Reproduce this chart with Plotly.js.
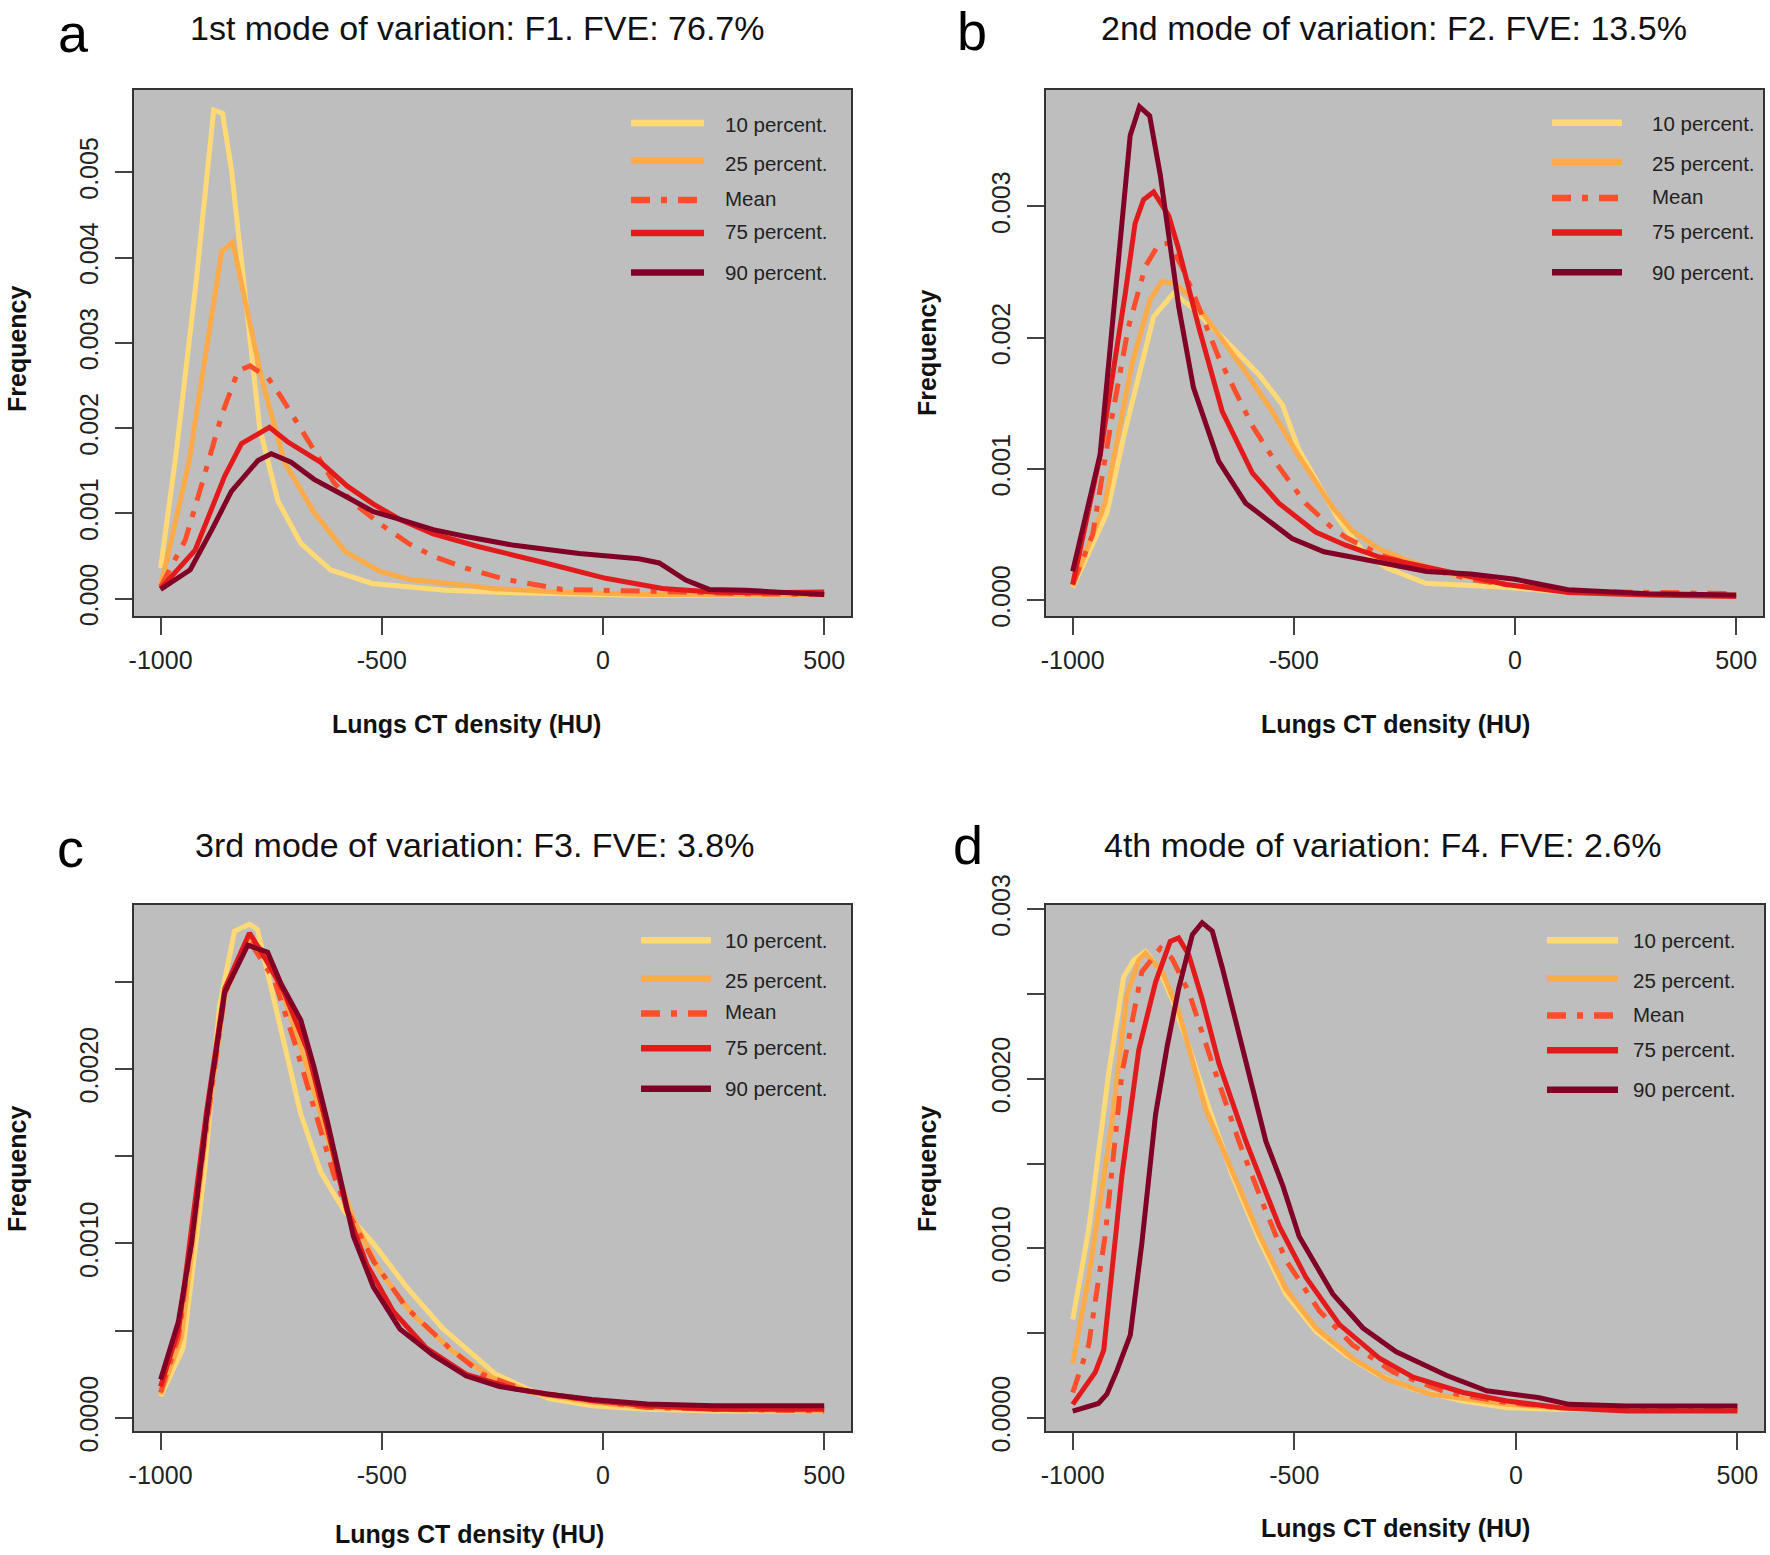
<!DOCTYPE html>
<html>
<head>
<meta charset="utf-8">
<script src="https://cdn.plot.ly/plotly-3.0.1.min.js"></script>
<style>html,body{margin:0;padding:0;background:#fff;}#chart{width:1770px;height:1555px;}</style>
</head>
<body>
<div id="chart"></div>
<script>
// ---------------- DATA ----------------
const seriesNames = ['10 percent.', '25 percent.', 'Mean', '75 percent.', '90 percent.'];
const xTickVals = [-1000, -500, 0, 500];
const xTickText = ['-1000', '-500', '0', '500'];

const panelTitles = ['1st mode of variation: F1. FVE: 76.7%', '2nd mode of variation: F2. FVE: 13.5%',
                     '3rd mode of variation: F3. FVE: 3.8%', '4th mode of variation: F4. FVE: 2.6%'];
const panelLetters = ['a', 'b', 'c', 'd'];
const xTitle = 'Lungs CT density (HU)';
const yTitle = 'Frequency';

const aYTickVals = [0, 0.001, 0.002, 0.003, 0.004, 0.005];
const aYTickText = ['0.000', '0.001', '0.002', '0.003', '0.004', '0.005'];
const bYTickVals = [0, 0.001, 0.002, 0.003];
const bYTickText = ['0.000', '0.001', '0.002', '0.003'];
const cYTickVals = [0, 0.0005, 0.001, 0.0015, 0.002, 0.0025];
const cYTickText = ['0.0000', '', '0.0010', '', '0.0020', ''];
const dYTickVals = [0, 0.0005, 0.001, 0.0015, 0.002, 0.0025, 0.003];
const dYTickText = ['0.0000', '', '0.0010', '', '0.0020', '', '0.003'];

// Panel a (F1)
const a10x = [-1000, -965, -920, -880, -860, -840, -776, -735, -683, -616, -522, -440, -356, -200, -54, 100, 202, 350, 500];
const a10y = [0.00036, 0.0017, 0.0037, 0.00573, 0.00569, 0.00504, 0.0020, 0.00115, 0.00065, 0.00034, 0.00018, 0.00014, 0.0001, 0.00007, 0.00005, 0.00004, 0.00004, 0.00004, 0.00004];
const a25x = [-1000, -936, -862, -837, -772, -720, -653, -582, -504, -437, -310, -250, -100, 0, 100, 200, 300, 400, 500];
const a25y = [0.00014, 0.0016, 0.00407, 0.00418, 0.00259, 0.0016, 0.00101, 0.00055, 0.00032, 0.000225, 0.00016, 0.00012, 0.00008, 0.00006, 0.00005, 0.00005, 0.00005, 0.00005, 0.00004];
const aMx = [-1000, -944, -907, -862, -825, -798, -757, -728, -660, -608, -556, -496, -437, -384, -310, -224, -92, 51, 172, 300, 400, 500];
const aMy = [0.00014, 0.00069, 0.00134, 0.00215, 0.00267, 0.00273, 0.00259, 0.00237, 0.0018, 0.00136, 0.00109, 0.00085, 0.00064, 0.0005, 0.00036, 0.00023, 0.00011, 0.0001, 0.00008, 0.00006, 0.00006, 0.00005];
const a75x = [-1000, -922, -855, -817, -754, -713, -638, -578, -519, -459, -384, -280, -130, 6, 134, 247, 350, 500];
const a75y = [0.00012, 0.00057, 0.00144, 0.00182, 0.00201, 0.00184, 0.0016, 0.00132, 0.00111, 0.00093, 0.00076, 0.00061, 0.00042, 0.00024, 0.00012, 0.00008, 0.00007, 0.00008];
const a90x = [-1000, -933, -884, -840, -780, -750, -705, -653, -578, -519, -459, -384, -310, -205, -54, 81, 127, 187, 240, 323, 420, 500];
const a90y = [0.00011, 0.00034, 0.00081, 0.00126, 0.00162, 0.0017, 0.0016, 0.0014, 0.00119, 0.00102, 0.00093, 0.00081, 0.00073, 0.00063, 0.00053, 0.00047, 0.00042, 0.00022, 0.00011, 0.0001, 0.00007, 0.00005];

// Panel b (F2)
const b10x = [-1000, -923, -881, -817, -772, -730, -640, -579, -526, -489, -398, -345, -292, -202, -20, 120, 300, 500];
const b10y = [0.0001, 0.00066, 0.0013, 0.00216, 0.00234, 0.00223, 0.00193, 0.00172, 0.00149, 0.00115, 0.00061, 0.00038, 0.00025, 0.00013, 0.0001, 0.00006, 0.00005, 0.00004];
const b25x = [-1000, -927, -866, -825, -798, -768, -730, -670, -609, -549, -489, -413, -368, -307, -232, -156, -20, 120, 300, 500];
const b25y = [0.00011, 0.00074, 0.0018, 0.00229, 0.00243, 0.00241, 0.0023, 0.00203, 0.00174, 0.00144, 0.0011, 0.00071, 0.00053, 0.00039, 0.00029, 0.00021, 0.00012, 0.00007, 0.00005, 0.00004];
const bMx = [-1000, -955, -912, -874, -836, -806, -783, -753, -730, -670, -632, -594, -541, -474, -413, -383, -300, -200, -100, 0, 120, 300, 500];
const bMy = [0.00012, 0.0005, 0.00138, 0.00208, 0.00254, 0.00271, 0.00272, 0.00254, 0.00236, 0.00185, 0.00159, 0.00133, 0.00105, 0.00074, 0.00055, 0.00048, 0.00034, 0.00024, 0.00016, 0.00011, 0.00007, 0.00006, 0.00005];
const b75x = [-1000, -938, -881, -859, -840, -817, -783, -760, -715, -662, -594, -534, -451, -383, -307, -217, -141, -20, 120, 300, 500];
const b75y = [0.00012, 0.0011, 0.00234, 0.00287, 0.00305, 0.00311, 0.00293, 0.00267, 0.00208, 0.00144, 0.00097, 0.00074, 0.00052, 0.00042, 0.00033, 0.00026, 0.00021, 0.00012, 0.00006, 0.00004, 0.00003];
const b90x = [-1000, -938, -870, -849, -826, -802, -760, -727, -670, -609, -504, -432, -307, -200, -100, 0, 120, 300, 500];
const b90y = [0.00022, 0.00111, 0.00354, 0.00376, 0.00369, 0.00324, 0.00223, 0.00162, 0.00106, 0.00074, 0.00047, 0.00037, 0.00029, 0.00022, 0.0002, 0.00016, 0.00008, 0.00005, 0.00004];

// Panel c (F3)
const c10x = [-1000, -949, -900, -867, -833, -799, -781, -758, -721, -683, -638, -586, -519, -444, -361, -242, -122, -25, 100, 250, 500];
const c10y = [0.000125, 0.0004, 0.00143, 0.00236, 0.00279, 0.00283, 0.0028, 0.00255, 0.00213, 0.00174, 0.00141, 0.00119, 0.001, 0.00075, 0.00051, 0.00025, 0.00011, 0.00007, 0.00005, 0.00004, 0.00004];
const c25x = [-1000, -953, -900, -855, -803, -773, -728, -683, -638, -593, -564, -504, -429, -339, -249, -160, -25, 100, 250, 500];
const c25y = [0.000135, 0.00046, 0.00158, 0.00242, 0.00275, 0.00269, 0.00246, 0.00213, 0.00174, 0.00135, 0.00114, 0.00084, 0.00059, 0.00038, 0.00023, 0.000145, 0.00009, 0.00006, 0.00005, 0.00004];
const cMx = [-1000, -959, -900, -855, -803, -743, -698, -653, -608, -578, -519, -444, -347, -272, -160, -25, 100, 250, 500];
const cMy = [0.000145, 0.00047, 0.0016, 0.00243, 0.00275, 0.00251, 0.00216, 0.00178, 0.00139, 0.00119, 0.0009, 0.00063, 0.0004, 0.00025, 0.000145, 0.0001, 0.00006, 0.00005, 0.00004];
const c75x = [-1000, -959, -897, -855, -799, -758, -721, -668, -623, -579, -534, -474, -399, -309, -197, -25, 100, 250, 500];
const c75y = [0.00018, 0.00051, 0.00174, 0.00246, 0.00278, 0.00261, 0.00244, 0.00211, 0.00166, 0.00119, 0.00088, 0.00061, 0.0004, 0.00025, 0.000165, 0.0001, 0.00007, 0.00005, 0.00005];
const c90x = [-1000, -960, -930, -893, -855, -803, -758, -728, -683, -653, -623, -586, -564, -519, -459, -384, -309, -234, -122, -25, 100, 250, 500];
const c90y = [0.00022, 0.00055, 0.001, 0.00178, 0.00244, 0.00271, 0.00267, 0.00249, 0.00228, 0.00201, 0.0017, 0.00129, 0.00104, 0.00075, 0.00051, 0.00036, 0.00024, 0.00018, 0.000135, 0.000106, 0.00008, 0.00007, 0.00007];

// Panel d (F4)
const d10x = [-1000, -964, -919, -885, -862, -836, -806, -776, -738, -693, -640, -579, -519, -451, -383, -315, -232, -119, -20, 100, 250, 500];
const d10y = [0.00058, 0.00111, 0.00203, 0.0026, 0.0027, 0.00275, 0.00265, 0.00247, 0.00219, 0.00183, 0.00143, 0.00105, 0.00073, 0.00051, 0.00037, 0.00026, 0.00017, 0.0001, 0.00006, 0.00005, 0.00005, 0.00005];
const d25x = [-1000, -964, -912, -878, -851, -836, -798, -760, -700, -640, -579, -519, -451, -368, -292, -194, -20, 100, 250, 500];
const d25y = [0.00032, 0.00083, 0.00173, 0.00249, 0.0027, 0.00274, 0.00263, 0.00239, 0.00182, 0.00146, 0.00108, 0.00076, 0.00053, 0.00035, 0.00023, 0.00014, 0.00008, 0.00006, 0.00005, 0.00005];
const dMx = [-1000, -964, -927, -889, -844, -802, -776, -738, -685, -625, -572, -519, -443, -368, -277, -156, -20, 100, 250, 500];
const dMy = [0.00015, 0.00043, 0.00107, 0.00203, 0.00263, 0.00277, 0.00271, 0.00251, 0.00209, 0.00163, 0.00127, 0.00093, 0.00063, 0.00043, 0.00027, 0.00015, 0.00009, 0.00006, 0.00005, 0.00005];
const d75x = [-1000, -949, -930, -889, -851, -813, -780, -761, -738, -708, -670, -609, -534, -474, -398, -307, -232, -119, -20, 100, 250, 500];
const d75y = [0.00008, 0.00027, 0.0004, 0.00143, 0.00217, 0.00257, 0.00281, 0.00283, 0.00273, 0.00247, 0.00209, 0.00163, 0.00113, 0.00083, 0.00055, 0.00035, 0.00024, 0.00015, 0.0001, 0.00006, 0.00004, 0.00004];
const d90x = [-1000, -942, -923, -900, -870, -844, -813, -787, -761, -730, -708, -685, -662, -632, -602, -564, -526, -489, -413, -345, -270, -156, -66, -20, 50, 120, 250, 500];
const d90y = [0.00004, 0.000085, 0.00014, 0.00028, 0.00049, 0.00103, 0.00179, 0.00219, 0.00253, 0.00285, 0.00292, 0.00287, 0.00265, 0.00233, 0.00203, 0.00163, 0.00137, 0.00107, 0.00073, 0.00053, 0.00039, 0.00025, 0.00016, 0.000145, 0.00012, 0.00008, 0.00007, 0.00007];

// ---------------- STYLE / LAYOUT ----------------
const W = 1770, H = 1555;
const colors = ['#FED976', '#FDAA48', '#FC4E2A', '#E31A1C', '#800026'];
const dashes = ['solid', 'solid', '19px,11px,6px,11px', 'solid', 'solid'];
const fx = p => p / W;
const fy = p => 1 - p / H;

const panels = [
  { xs: [a10x, a25x, aMx, a75x, a90x], ys: [a10y, a25y, aMy, a75y, a90y],
    box: [133.6, 851.2, 89.6, 616.2], xr: [-1061, 561], yr: [-0.000204, 0.005968],
    tv: aYTickVals, tt: aYTickText,
    title: [477.7, 27.5], letter: [73, 33], xt: [466, 724], yt: [17, 349],
    leg: { x0: 631, x1: 704, tx: 723, ly: [123, 160.5, 200, 233, 272.5], ty: [124, 163, 198.5, 232, 272.5] } },
  { xs: [b10x, b25x, bMx, b75x, b90x], ys: [b10y, b25y, bMy, b75y, b90y],
    box: [1045.7, 1763.2, 89.6, 616.2], xr: [-1061, 561], yr: [-0.000121, 0.00389],
    tv: bYTickVals, tt: bYTickText,
    title: [1394, 27.5], letter: [971.8, 31], xt: [1395, 724], yt: [927, 352],
    leg: { x0: 1552, x1: 1622, tx: 1650, ly: [122.7, 161.8, 198, 232.6, 272.2], ty: [123.5, 163, 197, 232, 272.2] } },
  { xs: [c10x, c25x, cMx, c75x, c90x], ys: [c10y, c25y, cMy, c75y, c90y],
    box: [133.6, 851.2, 904.7, 1431.3], xr: [-1061, 561], yr: [-0.0000768, 0.002942],
    tv: cYTickVals, tt: cYTickText,
    title: [474.3, 845], letter: [70, 848], xt: [469, 1534], yt: [17, 1169],
    leg: { x0: 641, x1: 711, tx: 723, ly: [940.3, 978.4, 1013.6, 1048.2, 1088.8], ty: [940.3, 980, 1012, 1047, 1088.8] } },
  { xs: [d10x, d25x, dMx, d75x, d90x], ys: [d10y, d25y, dMy, d75y, d90y],
    box: [1045.7, 1764, 904.7, 1431.3], xr: [-1061, 560], yr: [-0.000079, 0.003026],
    tv: dYTickVals, tt: dYTickText,
    title: [1382.5, 845], letter: [968, 845], xt: [1395, 1528], yt: [927, 1168],
    leg: { x0: 1547, x1: 1618, tx: 1631, ly: [940.3, 978.4, 1015.5, 1050.2, 1089.8], ty: [940.3, 980, 1014, 1049, 1089.8] } }
];

const tickFont = { family: 'Liberation Sans, Arial, sans-serif', size: 25, color: '#222' };
const traces = [];
const layout = {
  width: W, height: H, margin: { l: 0, r: 0, t: 0, b: 0 },
  paper_bgcolor: '#ffffff', plot_bgcolor: '#BEBEBE', showlegend: false,
  font: { family: 'Liberation Sans, Arial, sans-serif', color: '#111' },
  annotations: [], shapes: []
};

panels.forEach((p, i) => {
  const sfx = i === 0 ? '' : String(i + 1);
  const xa = 'x' + sfx, ya = 'y' + sfx;
  p.xs.forEach((xv, k) => {
    traces.push({
      type: 'scatter', mode: 'lines', x: xv, y: p.ys[k], name: seriesNames[k],
      xaxis: xa, yaxis: ya, hoverinfo: 'skip',
      line: { color: colors[k], width: 5, dash: dashes[k], shape: 'linear' }
    });
  });
  layout['xaxis' + sfx] = {
    domain: [fx(p.box[0]), fx(p.box[1])], anchor: ya, range: p.xr,
    tickmode: 'array', tickvals: xTickVals, ticktext: xTickText,
    ticks: 'outside', ticklen: 17, tickwidth: 2, tickcolor: '#444', ticklabelstandoff: 4,
    showline: true, mirror: true, linecolor: '#333', linewidth: 2,
    showgrid: false, zeroline: false, tickfont: tickFont, fixedrange: true
  };
  layout['yaxis' + sfx] = {
    domain: [fy(p.box[3]), fy(p.box[2])], anchor: xa, range: p.yr,
    tickmode: 'array', tickvals: p.tv, ticktext: p.tt, tickangle: -90,
    ticks: 'outside', ticklen: 17, tickwidth: 2, tickcolor: '#444', ticklabelstandoff: 7,
    showline: true, mirror: true, linecolor: '#333', linewidth: 2,
    showgrid: false, zeroline: false, tickfont: tickFont, fixedrange: true
  };
  layout.annotations.push({ xref: 'paper', yref: 'paper', x: fx(p.title[0]), y: fy(p.title[1]),
    xanchor: 'center', yanchor: 'middle', showarrow: false, text: panelTitles[i],
    font: { family: 'Liberation Sans, Arial, sans-serif', size: 34, color: '#111' } });
  layout.annotations.push({ xref: 'paper', yref: 'paper', x: fx(p.letter[0]), y: fy(p.letter[1]),
    xanchor: 'center', yanchor: 'middle', showarrow: false, text: panelLetters[i],
    font: { family: 'Liberation Sans, Arial, sans-serif', size: 54, color: '#000' } });
  layout.annotations.push({ xref: 'paper', yref: 'paper', x: fx(p.xt[0]), y: fy(p.xt[1]),
    xanchor: 'center', yanchor: 'middle', showarrow: false, text: '<b>' + xTitle + '</b>',
    font: { family: 'Liberation Sans, Arial, sans-serif', size: 25, color: '#111' } });
  layout.annotations.push({ xref: 'paper', yref: 'paper', x: fx(p.yt[0]), y: fy(p.yt[1]),
    xanchor: 'center', yanchor: 'middle', showarrow: false, textangle: -90, text: '<b>' + yTitle + '</b>',
    font: { family: 'Liberation Sans, Arial, sans-serif', size: 25, color: '#111' } });
  seriesNames.forEach((nm, k) => {
    layout.shapes.push({ type: 'line', xref: 'paper', yref: 'paper', layer: 'above',
      x0: fx(p.leg.x0), x1: fx(p.leg.x1), y0: fy(p.leg.ly[k]), y1: fy(p.leg.ly[k]),
      line: { color: colors[k], width: 6.5, dash: dashes[k] } });
    layout.annotations.push({ xref: 'paper', yref: 'paper', x: fx(p.leg.tx), y: fy(p.leg.ty[k]),
      xanchor: 'left', yanchor: 'middle', showarrow: false, text: nm,
      font: { family: 'Liberation Sans, Arial, sans-serif', size: 20.5, color: '#222' } });
  });
});

Plotly.newPlot('chart', traces, layout, { staticPlot: true, displayModeBar: false });
</script>
</body>
</html>
